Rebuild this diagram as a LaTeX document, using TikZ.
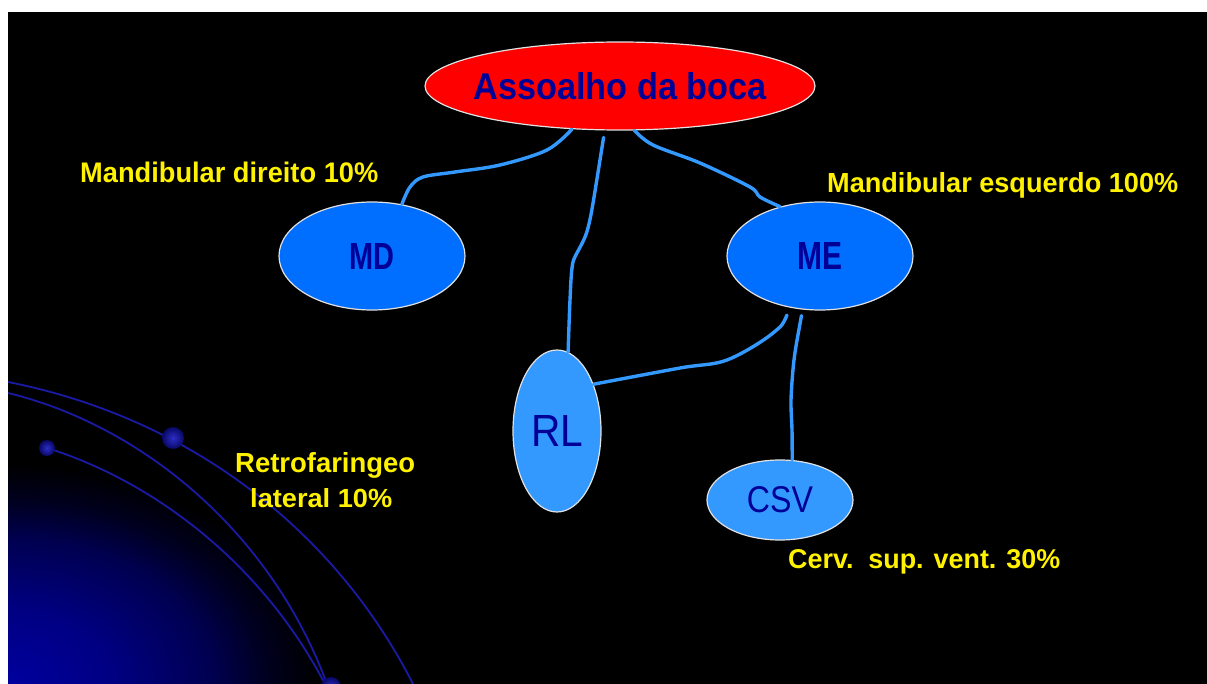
\documentclass[tikz,border=0pt]{standalone}
\usepackage{fontspec}
\setmainfont{Liberation Sans}
\usetikzlibrary{shapes.geometric}

\definecolor{deepfill}{RGB}{0,110,255}
\definecolor{palefill}{RGB}{51,153,255}
\definecolor{inkblue}{RGB}{0,0,150}
\definecolor{linkblue}{RGB}{51,153,255}
\definecolor{arcblue}{RGB}{26,26,165}
\definecolor{glowA}{RGB}{0,0,158}
\definecolor{glowB}{RGB}{0,0,130}
\definecolor{glowC}{RGB}{0,0,80}
\definecolor{glowD}{RGB}{0,0,30}
\definecolor{rimgray}{RGB}{225,225,225}

% soft blue glow in the lower left corner (the inner 25bp fill the shaded box)
\pgfdeclareradialshading{cornerglow}{\pgfpoint{0bp}{0bp}}{%
  color(0bp)=(glowA); color(8.5bp)=(glowB); color(16.5bp)=(glowC);
  color(21bp)=(glowD); color(25bp)=(black); color(50bp)=(black)}

% set a text to an exact width and height
\newcommand{\fitText}[3]{\resizebox{#1}{#2}{#3}}

\begin{document}
\begin{tikzpicture}[x=1pt,y=-1pt,
  bubble/.style={ellipse, draw=rimgray, line width=1.2pt, inner sep=0pt},
  hotbubble/.style={bubble, fill=red},
  deepbubble/.style={bubble, fill=deepfill},
  softbubble/.style={bubble, fill=palefill},
  nodetext/.style={text=inkblue, inner sep=0pt},
  tag/.style={text=yellow, inner sep=0pt, anchor=base west},
  link/.style={draw=linkblue, line width=3.4pt, line cap=round, line join=round},
  orbit/.style={draw=arcblue, line width=1.8pt},
  bead/.style={inner color={rgb,255:red,45;green,45;blue,200}, outer color={rgb,255:red,8;green,8;blue,100}}
]
\useasboundingbox (0,0) rectangle (1207,684);

% slide background with a white margin on the left and top
\fill[white] (0,0) rectangle (1207,684);
\fill[black] (8,12) rectangle (1207,684);
\begin{scope}
  \clip (8,12) rectangle (1207,684);
  \shade[shading=cornerglow] (-302,464) rectangle (318,904);
  % decorative orbits
  \draw[orbit] (8,382) .. controls (200,420) and (340,540) .. (413,684);
  \draw[orbit] (8,393) .. controls (140,425) and (270,530) .. (327,684);
  \draw[orbit] (47,448) .. controls (150,480) and (260,560) .. (325,684);
  \shade[bead] (173,438) circle (11);
  \shade[bead] (47,448) circle (8);
  \shade[bead] (331,687) circle (10);
\end{scope}

% nodes
\node[hotbubble, minimum width=390pt, minimum height=88pt,
  label={[nodetext]center:{\fitText{293pt}{27pt}{\bfseries Assoalho da boca}}}]
  (boca) at (620,86) {};
\node[deepbubble, minimum width=186pt, minimum height=108pt,
  label={[nodetext]center:{\fitText{45pt}{26pt}{\bfseries MD}}}]
  (md) at (372,256) {};
\node[deepbubble, minimum width=186pt, minimum height=108pt,
  label={[nodetext]center:{\fitText{45pt}{27pt}{\bfseries ME}}}]
  (me) at (820,256) {};
\node[softbubble, minimum width=88pt, minimum height=162pt,
  label={[nodetext]center:{\fitText{52pt}{31pt}{RL}}}]
  (rl) at (557,431) {};
\node[softbubble, minimum width=146pt, minimum height=80pt,
  label={[nodetext]center:{\fitText{66pt}{26pt}{CSV}}}]
  (csv) at (780,500) {};

% connectors
\draw[link] plot[smooth, tension=0.55] coordinates
  {(boca.222) (547,150) (500,165) (455,172) (423,177) (410,187) (md.60)};
\draw[link, shorten <=7pt] plot[smooth, tension=0.4] coordinates
  {(boca.251) (588,228) (573,262) (570,300) (rl.82)};
\draw[link] plot[smooth, tension=0.55] coordinates
  {(boca.288) (653,145) (700,163) (750,187) (760,197) (me.129)};
\draw[link, shorten <=8pt] plot[smooth, tension=0.55] coordinates
  {(me.240) (773,333) (727,360) (680,368) (rl.52)};
\draw[link, shorten <=6pt] plot[smooth, tension=0.45] coordinates
  {(me.252) (794,360) (791,400) (792,430) (csv.73)};

% yellow captions
\node[tag] (capmd) at (80,183) {\fitText{298pt}{20.5pt}{\bfseries Mandibular direito 10\%}};
\node[tag] (capme) at (827,193) {\fitText{351pt}{20pt}{\bfseries Mandibular esquerdo 100\%}};
\node[tag] (caprl) at (235,472) {\fitText{180pt}{20pt}{\bfseries Retrofaringeo}};
\node[tag] (caprlb) at (250,507) {\fitText{142pt}{19pt}{\bfseries lateral 10\%}};
\node[tag] (capcsv) at (788,568) {\fitText{272pt}{19pt}{\bfseries Cerv.\ \ sup. vent. 30\%}};
\end{tikzpicture}
\end{document}
